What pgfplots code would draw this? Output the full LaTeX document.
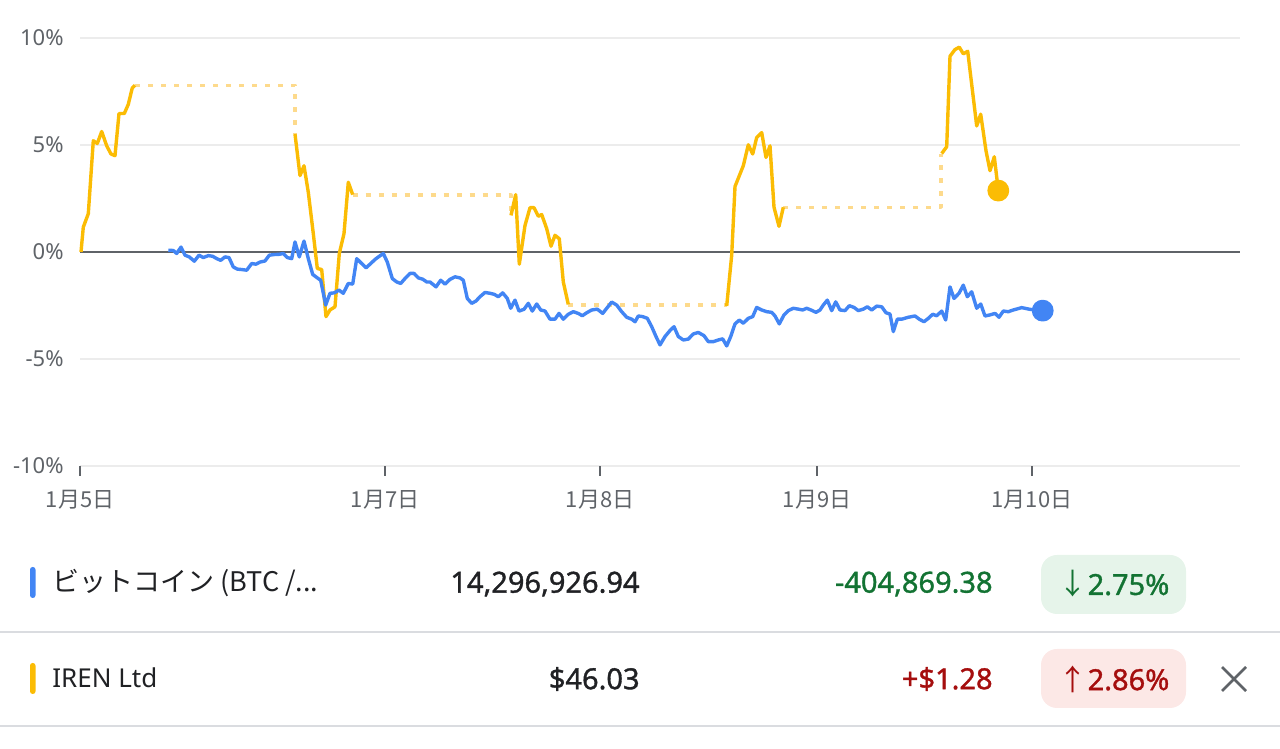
\documentclass[border=0pt]{standalone}
\usepackage{fontspec}
\setmainfont{Noto Sans}
\newfontfamily\jp{Noto Sans CJK JP}
\newfontfamily\med[FakeBold=1.2]{Noto Sans}
\usepackage{pgfplots}
\pgfplotsset{compat=1.18}
\definecolor{gblue}{HTML}{4285F4}
\definecolor{gyellow}{HTML}{FBBC04}
\definecolor{gdash}{HTML}{FDDA8C}
\definecolor{ggray}{HTML}{5F6368}
\definecolor{ggrid}{HTML}{ECECEC}
\definecolor{gtext}{HTML}{202124}
\definecolor{ggreen}{HTML}{137333}
\definecolor{gred}{HTML}{A50E0E}
\definecolor{gbggreen}{HTML}{E6F4EA}
\definecolor{gbgred}{HTML}{FCE8E6}
\definecolor{gsep}{HTML}{DADCE0}
\begin{document}
\begin{tikzpicture}[x=0.5pt,y=0.5pt]
\path[use as bounding box] (0,0) rectangle (1280,749);
\begin{axis}[
  at={(40pt,141.5pt)}, anchor=south west, scale only axis,
  width=580pt, height=214pt,
  xmin=80, xmax=1240, ymin=-10, ymax=10,
  axis line style={draw=none},
  ytick={-10,-5,0,5,10},
  yticklabels={-10\%,-5\%,0\%,5\%,10\%},
  ymajorgrids, grid style={ggrid, line width=0.6pt},
  ytick style={draw=none},
  xtick={80,385,600,817,1032},
  xtick pos=bottom,
  xticklabels={1月5日,1月7日,1月8日,1月9日,1月10日},
  tick align=outside, major tick length=5pt,
  xtick style={ggray, line width=1pt},
  xticklabel style={font=\jp\fontsize{11}{13}\selectfont, text=ggray, anchor=north, inner sep=0pt, yshift=-7pt},
  yticklabel style={font=\fontsize{11}{13}\selectfont, text=ggray, anchor=east, inner sep=0pt, xshift=-3pt},
  clip=false,
  every axis plot/.append style={line width=1.7pt, line join=round},
]
\draw[ggray, line width=1pt] (axis cs:80,0) -- (axis cs:1240,0);
% IREN dashed (market closed) connectors
\addplot[gdash, dash pattern=on 2.5pt off 4pt] coordinates {(135,7.79) (295,7.79) (295,5.51)};
\addplot[gdash, dash pattern=on 2.5pt off 4pt] coordinates {(352.7,2.66) (511,2.66) (511,1.71)};
\addplot[gdash, dash pattern=on 2.5pt off 4pt] coordinates {(568.3,-2.47) (726.7,-2.47)};
\addplot[gdash, dash pattern=on 2.5pt off 4pt] coordinates {(783.3,2.09) (941,2.09) (941,4.60)};
% IREN solid segments
\addplot[gyellow] coordinates {(81,0.00) (83.3,1.16) (88.3,1.79) (93.3,5.20) (97.3,5.07) (101.7,5.63) (106.7,4.96) (111,4.58) (115,4.50) (119,6.47) (124.3,6.47) (128.3,6.90) (132.3,7.67) (135,7.79)};
\addplot[gyellow] coordinates {(295,5.51) (300,3.57) (304,4.03) (308.3,2.79) (313.3,0.86) (317.3,-0.77) (321.7,-0.82) (326,-3.02) (330,-2.71) (335,-2.56) (339.3,-0.07) (344,0.86) (348.3,3.26) (352.7,2.68)};
\addplot[gyellow] coordinates {(511,1.71) (515.7,2.68) (519.3,-0.57) (525,1.24) (530,2.07) (534,2.07) (538.3,1.67) (541.7,1.75) (546.7,1.09) (551,0.27) (555,0.78) (559.3,0.62) (563.3,-1.40) (568.3,-2.45)};
\addplot[gyellow] coordinates {(726.7,-2.52) (731.7,-0.15) (735,3.06) (743.3,4.03) (748.3,5.01) (752.7,4.58) (756.7,5.35) (761.7,5.58) (766,4.42) (770,4.96) (774,2.09) (779,1.20) (783.3,2.09)};
\addplot[gyellow] coordinates {(941.7,4.60) (946.7,4.92) (950,9.15) (955,9.46) (959.3,9.57) (963.3,9.26) (967.7,9.38) (973.3,7.21) (976.7,5.89) (980.7,6.44) (986,4.73) (990,3.80) (994.3,4.45) (998.3,2.87)};
% Bitcoin
\addplot[gblue] coordinates {
(168.3,0.08) (173.3,0.07) (176.7,-0.07) (181,0.23) (185,-0.15) (189.3,-0.23) (194.3,-0.43) (199,-0.15) (203.3,-0.26) (208.3,-0.17) (212.7,-0.20) (216.7,-0.31) (220.7,-0.39) (225,-0.23) (229,-0.26) (233.3,-0.70) (237.3,-0.80) (241.7,-0.82) (246.7,-0.85) (251.7,-0.54) (256,-0.57) (260,-0.47) (265,-0.42) (269.3,-0.15) (274,-0.12) (279,-0.11) (283.3,-0.07) (287.3,-0.26) (291.7,-0.31) (295,0.47) (299.3,-0.23) (304,0.51) (308.3,-0.31) (312.7,-1.05) (316.7,-1.19) (320.7,-1.32) (325.7,-2.48) (330,-1.93) (334.3,-1.91) (339,-1.78) (343.3,-1.93) (348.3,-1.47) (352.7,-1.50) (356.7,-0.31) (361.7,-0.54) (366,-0.74) (370.7,-0.54) (375,-0.35) (379.3,-0.20) (383.3,-0.07) (387.3,-0.47) (392.3,-1.24) (396.7,-1.40) (400.7,-1.47) (405,-1.24) (410,-1.00) (414,-1.00) (418.3,-1.21) (422.7,-1.27) (426.7,-1.40) (430,-1.40) (436,-1.63) (440.7,-1.32) (445,-1.50) (450,-1.28) (455,-1.16) (460,-1.21) (463.3,-1.32) (467.3,-2.17) (471.7,-2.40) (476,-2.29) (480,-2.09) (485,-1.89) (490,-1.93) (494.3,-1.98) (498.3,-2.09) (502.7,-1.91) (507.3,-2.17) (510.7,-2.63) (515,-2.25) (519,-2.76) (524,-2.68) (528.3,-2.40) (532.3,-2.76) (536.7,-2.43) (540.7,-2.71) (545,-2.76) (550,-3.14) (555,-3.14) (559,-2.87) (563.3,-3.14) (568.3,-2.91) (573.3,-2.79) (578.3,-2.87) (582.3,-2.98) (586.7,-2.84) (591.7,-2.71) (597.3,-2.67) (602.7,-2.87) (606.7,-2.63) (611.7,-2.34) (616.7,-2.48) (621.7,-2.79) (626.7,-3.05) (631.7,-3.14) (635,-3.26) (638.3,-2.99) (642.7,-3.02) (647.3,-3.10) (651.7,-3.49) (656,-3.95) (660,-4.34) (665,-3.95) (670,-3.67) (674,-3.49) (678.3,-3.95) (683.3,-4.11) (688.3,-4.07) (693.3,-3.83) (698.3,-3.76) (704,-3.91) (708.3,-4.19) (713.3,-4.19) (718.3,-4.11) (722.7,-4.06) (726.7,-4.39) (730.7,-3.95) (735,-3.36) (739.3,-3.18) (743.3,-3.33) (748.3,-3.10) (752.7,-3.02) (756.7,-2.59) (761.7,-2.71) (766.7,-2.79) (771.7,-2.82) (775,-2.99) (779.3,-3.36) (784,-2.94) (788.3,-2.74) (793.3,-2.63) (798.3,-2.67) (802.7,-2.71) (806.7,-2.63) (811,-2.71) (816,-2.82) (820,-2.71) (823.3,-2.48) (827.3,-2.25) (831.7,-2.74) (835.7,-2.33) (840,-2.71) (845,-2.74) (849.3,-2.51) (854,-2.59) (858.3,-2.74) (863.3,-2.67) (867.3,-2.56) (871.7,-2.71) (876.7,-2.53) (881.7,-2.56) (886,-2.84) (890,-2.90) (893.3,-3.72) (897.3,-3.14) (901.7,-3.14) (908.3,-3.05) (915,-2.99) (919.3,-3.14) (924,-3.26) (928.3,-3.10) (932.7,-2.91) (936.7,-2.98) (941.7,-2.76) (945.7,-3.18) (950,-1.63) (954,-2.17) (959,-1.93) (963.3,-1.55) (967.3,-2.09) (971.7,-1.86) (976.7,-2.63) (980.7,-2.43) (985,-2.99) (990,-2.94) (995,-2.87) (999,-3.05) (1003.3,-2.76) (1008.3,-2.79) (1013.3,-2.71) (1021.7,-2.60) (1030,-2.68) (1042.7,-2.74)};
\addplot[only marks, mark=*, mark size=4.6pt, gyellow, draw=gyellow, fill=gyellow] coordinates {(998.3,2.87)};
\addplot[only marks, mark=*, mark size=4.6pt, gblue, draw=gblue, fill=gblue] coordinates {(1042.7,-2.74)};
\end{axis}
% ---- table below the chart ----
\fill[gblue, rounded corners=1.3pt] (30,151) rectangle (35.5,182);
\fill[gyellow, rounded corners=1.3pt] (30,55) rectangle (35.5,86);
\node[anchor=west, inner sep=0pt, text=gtext, font=\jp\fontsize{13.5}{15}\selectfont] at (52,166) {ビットコイン (BTC /...};
\node[anchor=west, inner sep=0pt, text=gtext, font=\fontsize{13}{15}\selectfont] at (52,71) {IREN Ltd};
\node[anchor=east, inner sep=0pt, text=gtext, font=\med\fontsize{14.5}{17}\selectfont] at (640,165) {14,296,926.94};
\node[anchor=east, inner sep=0pt, text=gtext, font=\med\fontsize{14.5}{17}\selectfont] at (640,70) {\$46.03};
\node[anchor=east, inner sep=0pt, text=ggreen, font=\med\fontsize{14.5}{17}\selectfont] at (993,165) {-404,869.38};
\node[anchor=east, inner sep=0pt, text=gred, font=\med\fontsize{14.5}{17}\selectfont] at (993,70) {+\$1.28};
\fill[gbggreen, rounded corners=8pt] (1041,135) rectangle (1186,194);
\fill[gbgred, rounded corners=8pt] (1041,41) rectangle (1186,100);
\node[inner sep=0pt, text=ggreen, font=\med\fontsize{14.5}{17}\selectfont] at (1114,165) {{\jp ↓}2.75\%};
\node[inner sep=0pt, text=gred, font=\med\fontsize{14.5}{17}\selectfont] at (1114,70) {{\jp ↑}2.86\%};
\draw[gsep, line width=1pt] (0,117) -- (1280,117);
\draw[gsep, line width=1pt] (0,23) -- (1280,23);
\draw[ggray, line width=1.3pt] (1222,58) -- (1246,82);
\draw[ggray, line width=1.3pt] (1222,82) -- (1246,58);
\end{tikzpicture}
\end{document}
